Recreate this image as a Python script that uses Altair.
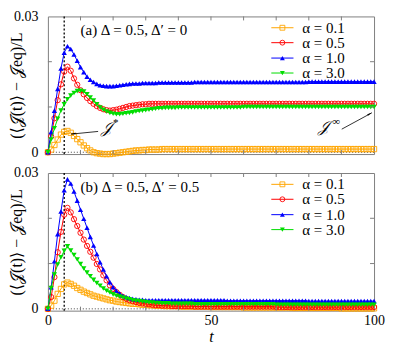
import altair as alt
import pandas as pd

FONT = "'Liberation Serif', 'DejaVu Serif', serif"

T = list(range(0, 101))
ALPHAS = ["0.1", "0.5", "1.0", "3.0"]
COLORS = ["#FFA500", "#FF0000", "#0000FF", "#00DD00"]
SHAPES = ["square", "circle", "triangle-up", "triangle-down"]
FILLED = [False, False, True, True]

# ---- panel (a): Delta=0.5, Delta'=0 ----
A_01 = [0.0000, 0.0006, 0.0016, 0.0028, 0.0039, 0.0045, 0.0047, 0.0043, 0.0036, 0.0029,
        0.0022, 0.0015, 0.0009, 0.0004, 0.0000, -0.0002, -0.0003, -0.0004, -0.0004, -0.0004,
        -0.0003, -0.0002, -0.0001, 0.0000, 0.0001, 0.0002, 0.0003, 0.0004, 0.0004, 0.0005,
        0.0005, 0.0006, 0.0006, 0.0006, 0.0006, 0.0007, 0.0007, 0.0007, 0.0007, 0.0007,
        0.0007, 0.0007, 0.0007, 0.0007, 0.0007, 0.0007, 0.0007, 0.0007, 0.0007, 0.0007,
        0.0007, 0.0007, 0.0007, 0.0007, 0.0007, 0.0007, 0.0007, 0.0007, 0.0007, 0.0007,
        0.0007, 0.0007, 0.0007, 0.0007, 0.0007, 0.0007, 0.0007, 0.0007, 0.0007, 0.0007,
        0.0007, 0.0007, 0.0007, 0.0007, 0.0007, 0.0007, 0.0007, 0.0007, 0.0007, 0.0007,
        0.0007, 0.0007, 0.0007, 0.0007, 0.0007, 0.0007, 0.0007, 0.0007, 0.0007, 0.0007,
        0.0007, 0.0007, 0.0007, 0.0007, 0.0007, 0.0007, 0.0007, 0.0007, 0.0007, 0.0007, 0.0007]
A_05 = [0.0000, 0.0035, 0.0075, 0.0115, 0.0150, 0.0178, 0.0189, 0.0180, 0.0163, 0.0149,
        0.0137, 0.0128, 0.0120, 0.0113, 0.0107, 0.0102, 0.0098, 0.0095, 0.0093, 0.0092,
        0.0093, 0.0094, 0.0096, 0.0098, 0.0100, 0.0102, 0.0103, 0.0104, 0.0105, 0.0106,
        0.0106, 0.0107, 0.0107, 0.0107, 0.0107, 0.0107, 0.0107, 0.0107, 0.0107, 0.0107,
        0.0107, 0.0107, 0.0107, 0.0107, 0.0107, 0.0107, 0.0107, 0.0107, 0.0107, 0.0107,
        0.0107, 0.0107, 0.0107, 0.0107, 0.0107, 0.0107, 0.0107, 0.0107, 0.0107, 0.0107,
        0.0107, 0.0107, 0.0107, 0.0107, 0.0107, 0.0107, 0.0107, 0.0107, 0.0107, 0.0107,
        0.0107, 0.0107, 0.0107, 0.0107, 0.0107, 0.0107, 0.0107, 0.0107, 0.0107, 0.0107,
        0.0107, 0.0107, 0.0107, 0.0107, 0.0107, 0.0107, 0.0107, 0.0107, 0.0107, 0.0107,
        0.0107, 0.0107, 0.0107, 0.0107, 0.0107, 0.0107, 0.0107, 0.0107, 0.0107, 0.0107, 0.0107]
A_10 = [0.0000, 0.0045, 0.0092, 0.0140, 0.0185, 0.0220, 0.0234, 0.0228, 0.0216, 0.0202,
        0.0188, 0.0177, 0.0167, 0.0160, 0.0155, 0.0151, 0.0148, 0.0147, 0.0146, 0.0146,
        0.0146, 0.0147, 0.0148, 0.0149, 0.0150, 0.0151, 0.0152, 0.0152, 0.0152, 0.0153,
        0.0153, 0.0153, 0.0153, 0.0153, 0.0154, 0.0154, 0.0154, 0.0154, 0.0154, 0.0154,
        0.0154, 0.0154, 0.0154, 0.0154, 0.0154, 0.0155, 0.0155, 0.0155, 0.0155, 0.0155,
        0.0155, 0.0155, 0.0155, 0.0155, 0.0155, 0.0155, 0.0155, 0.0155, 0.0155, 0.0155,
        0.0155, 0.0155, 0.0155, 0.0155, 0.0155, 0.0155, 0.0155, 0.0155, 0.0155, 0.0155,
        0.0155, 0.0155, 0.0155, 0.0155, 0.0155, 0.0155, 0.0155, 0.0155, 0.0155, 0.0155,
        0.0156, 0.0156, 0.0156, 0.0156, 0.0156, 0.0156, 0.0156, 0.0156, 0.0156, 0.0156,
        0.0156, 0.0156, 0.0156, 0.0156, 0.0156, 0.0156, 0.0156, 0.0156, 0.0156, 0.0156, 0.0156]
A_30 = [0.0000, 0.0028, 0.0053, 0.0074, 0.0092, 0.0106, 0.0117, 0.0125, 0.0131, 0.0135,
        0.0136, 0.0134, 0.0128, 0.0121, 0.0114, 0.0106, 0.0099, 0.0094, 0.0090, 0.0087,
        0.0085, 0.0084, 0.0084, 0.0085, 0.0086, 0.0087, 0.0088, 0.0090, 0.0091, 0.0092,
        0.0093, 0.0094, 0.0095, 0.0096, 0.0097, 0.0097, 0.0098, 0.0098, 0.0098, 0.0098,
        0.0099, 0.0099, 0.0099, 0.0099, 0.0099, 0.0099, 0.0099, 0.0099, 0.0099, 0.0099,
        0.0099, 0.0099, 0.0099, 0.0099, 0.0099, 0.0099, 0.0099, 0.0099, 0.0099, 0.0099,
        0.0100, 0.0100, 0.0100, 0.0100, 0.0100, 0.0100, 0.0100, 0.0100, 0.0100, 0.0100,
        0.0100, 0.0100, 0.0100, 0.0100, 0.0100, 0.0100, 0.0100, 0.0100, 0.0100, 0.0100,
        0.0100, 0.0100, 0.0100, 0.0100, 0.0100, 0.0100, 0.0100, 0.0100, 0.0100, 0.0100,
        0.0100, 0.0100, 0.0100, 0.0100, 0.0100, 0.0100, 0.0100, 0.0100, 0.0100, 0.0100, 0.0100]

# ---- panel (b): Delta=0.5, Delta'=0.5 ----
B_01 = [0.0000, 0.0007, 0.0018, 0.0033, 0.0044, 0.0054, 0.0058, 0.0055, 0.0051, 0.0046,
        0.0042, 0.0038, 0.0035, 0.0032, 0.0029, 0.0027, 0.0025, 0.0023, 0.0021, 0.0019,
        0.0018, 0.0016, 0.0015, 0.0014, 0.0013, 0.0012, 0.0011, 0.0011, 0.0010, 0.0009,
        0.0009, 0.0008, 0.0008, 0.0007, 0.0007, 0.0007, 0.0006, 0.0006, 0.0006, 0.0006,
        0.0006, 0.0005, 0.0005, 0.0005, 0.0005, 0.0005, 0.0005, 0.0005, 0.0005, 0.0005,
        0.0004, 0.0004, 0.0004, 0.0004, 0.0004, 0.0004, 0.0004, 0.0004, 0.0004, 0.0004,
        0.0003, 0.0003, 0.0003, 0.0003, 0.0003, 0.0003, 0.0003, 0.0003, 0.0003, 0.0003,
        0.0003, 0.0003, 0.0003, 0.0003, 0.0003, 0.0002, 0.0002, 0.0002, 0.0002, 0.0002,
        0.0002, 0.0002, 0.0002, 0.0002, 0.0002, 0.0002, 0.0002, 0.0002, 0.0002, 0.0002,
        0.0001, 0.0001, 0.0001, 0.0001, 0.0001, 0.0001, 0.0001, 0.0001, 0.0001, 0.0001, 0.0001]
B_05 = [0.0000, 0.0026, 0.0070, 0.0125, 0.0170, 0.0208, 0.0223, 0.0213, 0.0198, 0.0183,
        0.0168, 0.0153, 0.0139, 0.0126, 0.0113, 0.0099, 0.0087, 0.0074, 0.0063, 0.0052,
        0.0044, 0.0037, 0.0031, 0.0026, 0.0022, 0.0019, 0.0017, 0.0015, 0.0013, 0.0012,
        0.0011, 0.0010, 0.0009, 0.0008, 0.0008, 0.0007, 0.0007, 0.0007, 0.0006, 0.0006,
        0.0006, 0.0006, 0.0006, 0.0006, 0.0006, 0.0005, 0.0005, 0.0005, 0.0005, 0.0005,
        0.0005, 0.0005, 0.0005, 0.0005, 0.0005, 0.0005, 0.0005, 0.0005, 0.0005, 0.0005,
        0.0005, 0.0005, 0.0005, 0.0005, 0.0005, 0.0005, 0.0005, 0.0005, 0.0005, 0.0005,
        0.0004, 0.0004, 0.0004, 0.0004, 0.0004, 0.0004, 0.0004, 0.0004, 0.0004, 0.0004,
        0.0004, 0.0004, 0.0004, 0.0004, 0.0004, 0.0004, 0.0004, 0.0004, 0.0004, 0.0004,
        0.0004, 0.0004, 0.0004, 0.0004, 0.0004, 0.0004, 0.0004, 0.0004, 0.0004, 0.0004, 0.0004]
B_10 = [0.0000, 0.0048, 0.0105, 0.0165, 0.0215, 0.0262, 0.0286, 0.0277, 0.0259, 0.0239,
        0.0219, 0.0199, 0.0179, 0.0159, 0.0140, 0.0121, 0.0103, 0.0087, 0.0072, 0.0059,
        0.0048, 0.0040, 0.0034, 0.0029, 0.0026, 0.0024, 0.0022, 0.0021, 0.0020, 0.0020,
        0.0019, 0.0019, 0.0019, 0.0019, 0.0019, 0.0019, 0.0019, 0.0019, 0.0019, 0.0019,
        0.0019, 0.0019, 0.0019, 0.0019, 0.0019, 0.0019, 0.0019, 0.0019, 0.0019, 0.0019,
        0.0019, 0.0019, 0.0019, 0.0019, 0.0019, 0.0018, 0.0018, 0.0018, 0.0018, 0.0018,
        0.0018, 0.0018, 0.0018, 0.0018, 0.0018, 0.0018, 0.0018, 0.0018, 0.0018, 0.0018,
        0.0018, 0.0018, 0.0018, 0.0018, 0.0018, 0.0018, 0.0018, 0.0018, 0.0018, 0.0018,
        0.0017, 0.0017, 0.0017, 0.0017, 0.0017, 0.0017, 0.0017, 0.0017, 0.0017, 0.0017,
        0.0017, 0.0017, 0.0017, 0.0017, 0.0017, 0.0017, 0.0017, 0.0017, 0.0017, 0.0017, 0.0017]
B_30 = [0.0000, 0.0046, 0.0076, 0.0098, 0.0114, 0.0128, 0.0138, 0.0129, 0.0119, 0.0109,
        0.0099, 0.0089, 0.0080, 0.0072, 0.0064, 0.0057, 0.0051, 0.0045, 0.0040, 0.0036,
        0.0032, 0.0029, 0.0027, 0.0025, 0.0023, 0.0021, 0.0019, 0.0018, 0.0017, 0.0016,
        0.0015, 0.0014, 0.0014, 0.0013, 0.0013, 0.0012, 0.0012, 0.0012, 0.0011, 0.0011,
        0.0011, 0.0011, 0.0011, 0.0011, 0.0011, 0.0010, 0.0010, 0.0010, 0.0010, 0.0010,
        0.0010, 0.0010, 0.0010, 0.0010, 0.0010, 0.0010, 0.0010, 0.0010, 0.0010, 0.0010,
        0.0010, 0.0010, 0.0010, 0.0010, 0.0010, 0.0010, 0.0010, 0.0010, 0.0010, 0.0010,
        0.0009, 0.0009, 0.0009, 0.0009, 0.0009, 0.0009, 0.0009, 0.0009, 0.0009, 0.0009,
        0.0009, 0.0009, 0.0009, 0.0009, 0.0009, 0.0009, 0.0009, 0.0009, 0.0009, 0.0009,
        0.0009, 0.0009, 0.0009, 0.0009, 0.0009, 0.0009, 0.0009, 0.0009, 0.0009, 0.0009, 0.0009]

# guides / annotations (data units)
X_DOMAIN = [0, 100]
Y_DOMAIN = [-0.0004, 0.03]
X_LABELS = [0, 50, 100]
Y_LABELS = [0, 0.03]
X_TICKS = [10, 20, 30, 40, 50, 60, 70, 80, 90]
Y_TICKS = [0.01, 0.02]
T_STAR = [5]
ZERO = [0.0]
LEG_V = [0.0275, 0.0242, 0.0208, 0.0175]
LEG_T = [68.5, 75.3]
LEG_TM = 71.9
LEG_TX = 78.0
TAG_T, TAG_V = 10.0, 0.0270
TAGS = ["(a) Δ = 0.5, Δ′ = 0", "(b) Δ = 0.5, Δ′ = 0.5"]
STAR_ARROW = {"t": [15.4], "v": [0.0046], "t2": [7.1], "v2": [0.0040]}
STAR_HEAD = {"t": [8.0], "v": [0.0041]}
STAR_TXT = {"t": [16.3], "v": [0.0053]}
INF_ARROW = {"t": [90.1], "v": [0.0051], "t2": [99.3], "v2": [0.0087]}
INF_HEAD = {"t": [98.5], "v": [0.0084]}
INF_TXT = {"t": [89.6], "v": [0.0055]}

W, H = 327, 138
YTITLE = "(⟨𝒥(t)⟩ − 𝒥eq)/L"

xs = alt.Scale(domain=X_DOMAIN, nice=False, zero=False)
ys = alt.Scale(domain=Y_DOMAIN, nice=False, zero=False)


def xaxis(show):
    if not show:
        return None
    return alt.Axis(values=X_LABELS, format="d", ticks=False, tickSize=0, domain=False, grid=False,
                    labelFont=FONT, labelFontSize=14, labelColor="black", labelPadding=3,
                    labelFlush=False, labelOverlap=False, title="t", titleFont=FONT,
                    titleFontSize=16, titleFontStyle="italic", titleFontWeight="normal",
                    titleColor="black", titlePadding=1)


def yaxis():
    return alt.Axis(values=Y_LABELS, format=".2~f", ticks=False, tickSize=0, domain=False, grid=False,
                    labelFont=FONT, labelFontSize=14, labelColor="black", labelPadding=10,
                    labelFlush=False, labelOverlap=False, title=YTITLE, titleFont=FONT,
                    titleFontSize=16, titleFontWeight="normal", titleColor="black",
                    titlePadding=-11)


def X(show, field="t"):
    return alt.X(f"{field}:Q", scale=xs, axis=xaxis(show))


def Y(field="v"):
    return alt.Y(f"{field}:Q", scale=ys, axis=yaxis())


def panel(series, tag, show_x, notes):
    layers = []
    layers.append(alt.Chart(pd.DataFrame({"v": ZERO})).mark_rule(
        color="#444444", strokeDash=[1, 2], strokeWidth=1).encode(y=Y()))
    layers.append(alt.Chart(pd.DataFrame({"t": T_STAR})).mark_rule(
        color="black", strokeDash=[2, 2], strokeWidth=1.3).encode(x=X(show_x)))
    for vals, col, shp, fil in zip(series, COLORS, SHAPES, FILLED):
        df = pd.DataFrame({"t": T, "v": vals})
        layers.append(alt.Chart(df).mark_line(color=col, strokeWidth=1).encode(x=X(show_x), y=Y()))
        layers.append(alt.Chart(df).mark_point(shape=shp, filled=fil, color=col, size=28,
                                               strokeWidth=0.9, opacity=1)
                      .encode(x=X(show_x), y=Y()))
    # legend
    for i, (a, col, shp, fil) in enumerate(zip(ALPHAS, COLORS, SHAPES, FILLED)):
        ld = pd.DataFrame({"t": [LEG_T[0]], "t2": [LEG_T[1]], "v": [LEG_V[i]],
                           "tm": [LEG_TM], "tx": [LEG_TX], "lab": [f"α = {a}"]})
        layers.append(alt.Chart(ld).mark_rule(color=col, strokeWidth=1).encode(
            x=X(show_x), x2="t2:Q", y=Y()))
        layers.append(alt.Chart(ld).mark_point(shape=shp, filled=fil, color=col, size=24,
                                               strokeWidth=0.9, opacity=1)
                      .encode(x=X(show_x, "tm"), y=Y()))
        layers.append(alt.Chart(ld).mark_text(align="left", baseline="middle", font=FONT,
                                              fontSize=15, color="black")
                      .encode(x=X(show_x, "tx"), y=Y(), text="lab:N"))
    # panel tag
    layers.append(alt.Chart(pd.DataFrame({"t": [TAG_T], "v": [TAG_V], "lab": [tag]})).mark_text(
        align="left", baseline="middle", font=FONT, fontSize=15, color="black")
        .encode(x=X(show_x), y=Y(), text="lab:N"))
    if notes:
        for arrow, head, ang in [(STAR_ARROW, STAR_HEAD, 263), (INF_ARROW, INF_HEAD, 62)]:
            layers.append(alt.Chart(pd.DataFrame(arrow)).mark_rule(color="black", strokeWidth=0.8)
                          .encode(x=X(show_x), x2="t2:Q", y=Y(), y2="v2:Q"))
            layers.append(alt.Chart(pd.DataFrame(head)).mark_point(
                shape="wedge", filled=True, color="black", size=35, angle=ang, opacity=1)
                .encode(x=X(show_x), y=Y()))
        sd = pd.DataFrame(STAR_TXT)
        layers.append(alt.Chart(sd).mark_text(align="left", baseline="middle", font=FONT,
                                              fontSize=16, fontStyle="italic", color="black", text="𝒥")
                      .encode(x=X(show_x), y=Y()))
        layers.append(alt.Chart(sd).mark_text(align="left", baseline="middle", font=FONT,
                                              fontSize=11, color="black", text="*", dx=12, dy=-5)
                      .encode(x=X(show_x), y=Y()))
        idf = pd.DataFrame(INF_TXT)
        layers.append(alt.Chart(idf).mark_text(align="right", baseline="middle", font=FONT,
                                               fontSize=16, fontStyle="italic", color="black",
                                               text="𝒥", dx=-11)
                      .encode(x=X(show_x), y=Y()))
        layers.append(alt.Chart(idf).mark_text(align="right", baseline="middle", font=FONT,
                                               fontSize=11, color="black", text="∞", dy=-5)
                      .encode(x=X(show_x), y=Y()))
    # inward ticks
    xt = pd.DataFrame({"t": X_TICKS})
    yt = pd.DataFrame({"v": Y_TICKS})
    tick = dict(color="#808080", strokeWidth=1)
    layers.append(alt.Chart(xt).mark_rule(**tick).encode(x=X(show_x), y=alt.value(H), y2=alt.value(H - 4)))
    layers.append(alt.Chart(xt).mark_rule(**tick).encode(x=X(show_x), y=alt.value(0), y2=alt.value(4)))
    layers.append(alt.Chart(yt).mark_rule(**tick).encode(y=Y(), x=alt.value(0), x2=alt.value(4)))
    layers.append(alt.Chart(yt).mark_rule(**tick).encode(y=Y(), x=alt.value(W), x2=alt.value(W - 4)))
    return alt.layer(*layers).properties(width=W, height=H)


top = panel([A_01, A_05, A_10, A_30], TAGS[0], False, True)
bottom = panel([B_01, B_05, B_10, B_30], TAGS[1], True, False)

chart = alt.vconcat(top, bottom, spacing=5).properties(
    padding={"left": 0, "top": 0, "right": 2, "bottom": 0}
).configure_view(stroke="#808080", strokeWidth=1)

chart.save("out.html", embed_options={"renderer": "svg", "actions": False})
